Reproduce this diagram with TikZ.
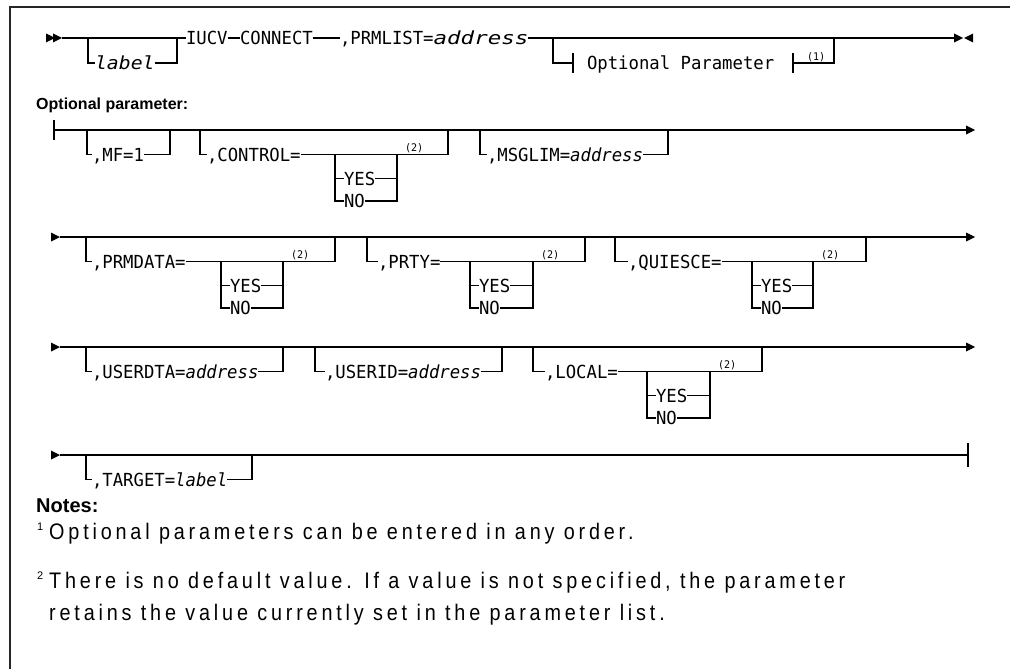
\documentclass[tikz,border=0pt]{standalone}
\usepackage{fontspec}
\usepackage{graphicx}
\newfontfamily\rrfont[FakeStretch=0.96]{DejaVu Sans Mono}
\newfontfamily\rrwide[FakeStretch=1.1]{DejaVu Sans Mono}
\newfontfamily\rrwider[FakeStretch=1.25]{DejaVu Sans Mono}
\newfontfamily\notefont[FakeStretch=0.88,LetterSpace=17]{Liberation Sans}
\newfontfamily\headfont{Liberation Sans}

\tikzset{
  rr/.style={line width=1.1pt,draw=black},
  frame/.style={line width=1.4pt,draw=black!85},
  txt/.style={inner sep=0pt,outer sep=0pt,anchor=west,font=\rrfont\fontsize{18}{18}\selectfont,text height=13pt,text depth=0pt},
  wtxt/.style={txt,font=\rrwide\fontsize{18}{18}\selectfont},
  sup/.style={inner sep=0pt,outer sep=0pt,anchor=south west,font=\rrfont\fontsize{10.5}{10.5}\selectfont},
  notetxt/.style={inner sep=0pt,anchor=base west,font=\notefont\fontsize{22.5}{22.5}\selectfont},
  notesup/.style={inner sep=0pt,anchor=base west,font=\headfont\fontsize{11}{11}\selectfont},
  head/.style={inner sep=0pt,anchor=base west,font=\headfont\bfseries\fontsize{16}{16}\selectfont}
}

% right-pointing triangle with tip at (#1,#2)
\newcommand\rtri[2]{\fill (#1-9,#2-4.5) -- (#1,#2) -- (#1-9,#2+4.5) -- cycle;}
% left-pointing triangle with tip at (#1,#2)
\newcommand\ltri[2]{\fill (#1+9,#2-4.5) -- (#1,#2) -- (#1+9,#2+4.5) -- cycle;}

% optional branch: name, xL, xR, ymain, xtext, text
\newcommand\rrbranch[6]{%
  \coordinate (#1L) at (#2,#4);
  \coordinate (#1R) at (#3,#4);
  \node[txt] (#1) at (#5,#4+24.5) {#6};
  \draw[rr] (#1L) |- (#1.west);
  \draw[rr] (#1.east) -| (#1R);
}
% YES/NO choice: name, xL, xR, ydrop
\newcommand\rryesno[4]{%
  \coordinate (#1a) at (#2,#4);
  \coordinate (#1b) at (#3,#4);
  \node[txt] (#1Y) at (#2+9,#4+24) {YES};
  \node[txt] (#1N) at (#2+9,#4+46.5) {NO};
  \draw[rr] (#1a) |- (#1N.west);
  \draw[rr] (#1a |- #1Y.west) -- (#1Y.west);
  \draw[rr] (#1Y.east) -- (#1b |- #1Y.east);
  \draw[rr] (#1N.east) -| (#1b);
  \node[sup] (#1s) at (#3+8,#4-1.5) {(2)};
}

\begin{document}
\begin{tikzpicture}[x=1pt,y=-1pt]
\useasboundingbox (0,0) rectangle (1010,669);
\fill[white] (0,0) rectangle (1010,669);
% frame
\draw[frame] (10,669) -- (10,7) -- (1010,7);

% ---------- main line ----------
\rtri{55}{38}\rtri{62}{38}
\coordinate (m0) at (62,38);
\node[txt] (iucv) at (186,38) {IUCV};
\node[txt] (conn) at (240,38) {CONNECT};
\node[txt] (prm) at (340,38) {,PRMLIST=\rrwider\itshape address};
\coordinate (mend) at (954,38);
\draw[rr] (m0) -- (iucv.west);
\draw[rr] (iucv.east) -- (conn.west);
\draw[rr] (conn.east) -- (prm.west);
\draw[rr] (prm.east) -- (mend);
\rtri{963}{38}\ltri{964}{38}
% label branch
\coordinate (lbL) at (88,38);
\coordinate (lbR) at (177,38);
\node[wtxt] (lbl) at (95,63) {\itshape label};
\draw[rr] (lbL) |- (lbl.west);
\draw[rr] (lbl.east) -| (lbR);
% optional parameter reference
\coordinate (opL) at (553,38);
\coordinate (opR) at (834,38);
\coordinate (opb1) at (573,63);
\coordinate (opb2) at (793,63);
\node[txt] (optp) at (587,63) {Optional Parameter};
\draw[rr] (opL) |- (opb1);
\draw[rr] (opb1 |- 0,53) -- (opb1 |- 0,73);
\draw[rr] (opb2 |- 0,53) -- (opb2 |- 0,73);
\draw[rr] (opb2) -| (opR);
\node[sup] (n1) at (807,61.5) {(1)};

% ---------- Optional parameter heading ----------
\node[head] (hd) at (36,110) {Optional parameter:};

% ---------- row 1 ----------
\coordinate (r1s) at (54,130);
\coordinate (r1e) at (966,130);
\draw[rr] (54,120) -- (54,140);
\draw[rr] (r1s) -- (r1e);
\rtri{975}{130}
\rrbranch{mf}{87}{170}{130}{92}{,MF=1}
\rrbranch{ctl}{200}{448}{130}{207}{,CONTROL=}
\rryesno{ctlc}{335}{397}{154.5}
\rrbranch{msg}{480}{668}{130}{487}{,MSGLIM=\itshape address}

% ---------- row 2 ----------
\rtri{60}{237}
\coordinate (r2s) at (60,237);
\coordinate (r2e) at (966,237);
\draw[rr] (r2s) -- (r2e);
\rtri{975}{237}
\rrbranch{prd}{86}{335}{237}{92}{,PRMDATA=}
\rryesno{prdc}{221}{283}{261.5}
\rrbranch{pty}{367}{585}{237}{378}{,PRTY=}
\rryesno{ptyc}{470}{533}{261.5}
\rrbranch{qui}{615}{866}{237}{628}{,QUIESCE=}
\rryesno{quic}{752}{813}{261.5}

% ---------- row 3 ----------
\rtri{60}{347}
\coordinate (r3s) at (60,347);
\coordinate (r3e) at (966,347);
\draw[rr] (r3s) -- (r3e);
\rtri{975}{347}
\rrbranch{usd}{86}{283}{347}{92}{,USERDTA=\itshape address}
\rrbranch{usi}{315}{502}{347}{325}{,USERID=\itshape address}
\rrbranch{loc}{533}{762}{347}{545}{,LOCAL=}
\rryesno{locc}{647}{710}{371.5}

% ---------- row 4 ----------
\rtri{60}{455}
\coordinate (r4s) at (60,455);
\coordinate (r4e) at (968,455);
\draw[rr] (r4s) -- (r4e);
\draw[rr] (968,443) -- (968,467);
\rrbranch{tgt}{86}{252}{455}{92}{,TARGET=\itshape label}

% ---------- notes ----------
\node[inner sep=0pt,anchor=base west,font=\headfont\bfseries\fontsize{20}{20}\selectfont] (notes) at (36,512) {Notes:};
\node[notesup] (s1) at (37,530) {1};
\node[notetxt] (t1) at (49,539) {Optional parameters can be entered in any order.};
\node[notesup] (s2) at (37,579) {2};
\node[notetxt] (t2) at (49,588) {There is no default value. If a value is not specified, the parameter};
\node[notetxt] (t3) at (49,620) {retains the value currently set in the parameter list.};
\end{tikzpicture}
\end{document}
